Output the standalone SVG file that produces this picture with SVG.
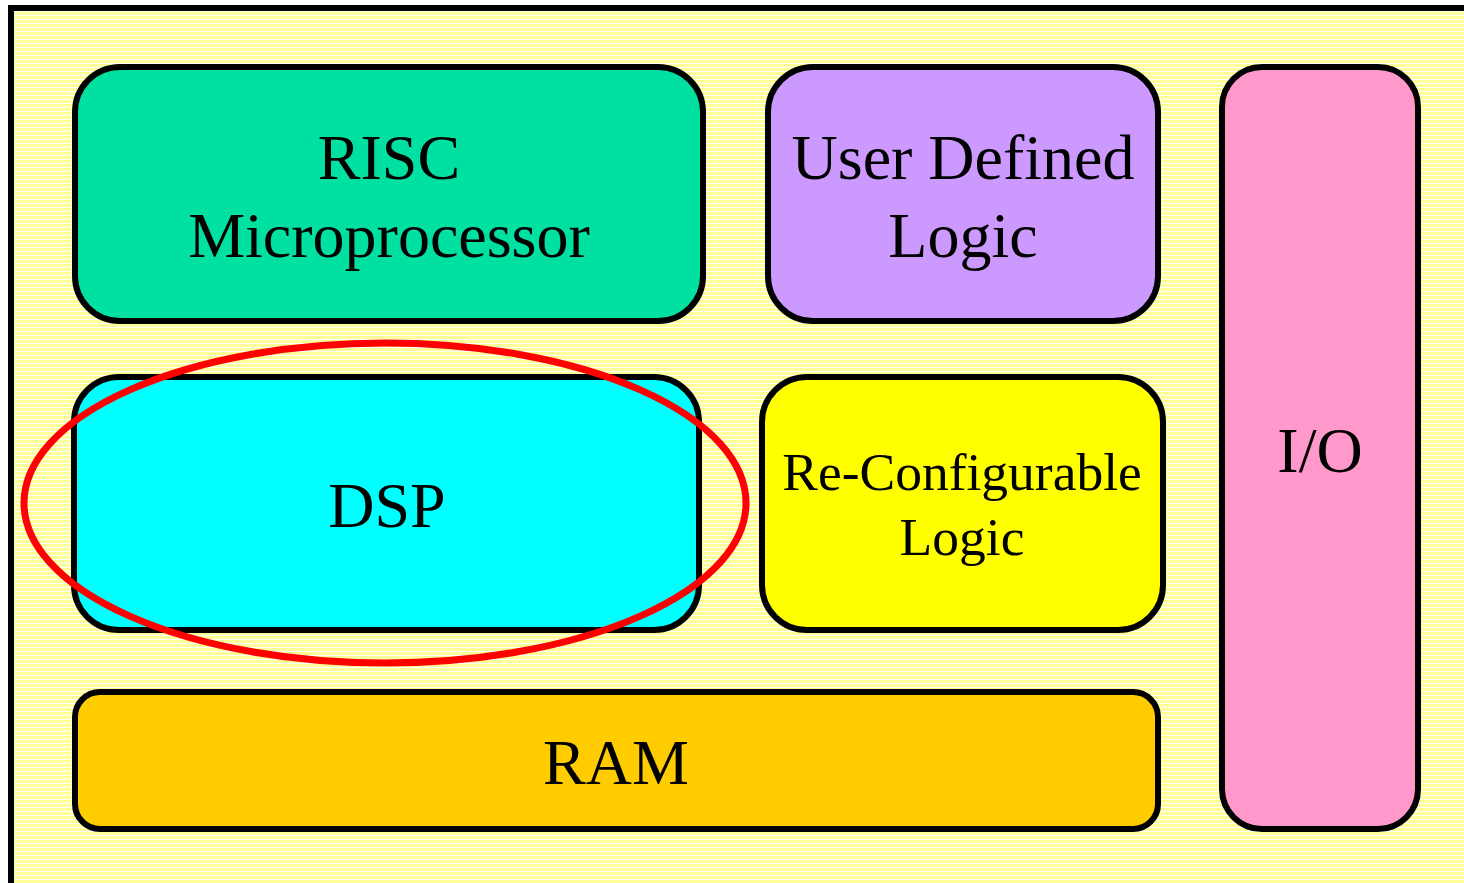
<svg xmlns="http://www.w3.org/2000/svg" width="1464" height="883" viewBox="0 0 1464 883">
<defs>
<pattern id="stripes" x="0" y="0" width="8" height="4" patternUnits="userSpaceOnUse">
<rect width="8" height="4" fill="#FFFF99"/>
<rect y="3" width="8" height="1" fill="#FFFFFF"/>
</pattern>
<style>
.box{stroke:#000;stroke-width:6}
.t{font-family:"Liberation Serif","Times New Roman",serif;font-size:64px;fill:#000;text-anchor:middle}
.s{font-size:53.5px}
</style>
</defs>
<rect width="1464" height="883" fill="#FFFFFF"/>
<rect x="11" y="8" width="1470" height="890" fill="url(#stripes)" stroke="#000" stroke-width="6"/>
<g id="risc">
<rect class="box" x="75" y="67" width="628" height="254" rx="45" fill="#00E0A0"/>
<text class="t" x="389" y="179">RISC</text>
<text class="t" x="389" y="257">Microprocessor</text>
</g>
<g id="udl">
<rect class="box" x="768" y="67" width="390" height="254" rx="45" fill="#CC99FF"/>
<text class="t" x="963" y="179">User Defined</text>
<text class="t" x="963" y="257">Logic</text>
</g>
<g id="io">
<rect class="box" x="1222" y="67" width="196" height="762" rx="40" fill="#FF99CC"/>
<text class="t" x="1320" y="472">I/O</text>
</g>
<g id="dsp">
<rect class="box" x="74" y="377" width="625" height="253" rx="45" fill="#00FFFF"/>
<text class="t" x="387" y="527">DSP</text>
</g>
<g id="rcl">
<rect class="box" x="762" y="377" width="401" height="253" rx="45" fill="#FFFF00"/>
<text class="t s" x="962" y="490">Re-Configurable</text>
<text class="t s" x="962" y="555">Logic</text>
</g>
<g id="ram">
<rect class="box" x="75" y="692" width="1083" height="137" rx="25" fill="#FFCC00"/>
<text class="t" x="616" y="784">RAM</text>
</g>
<g id="connectors">
<ellipse cx="385" cy="503" rx="361" ry="160" fill="none" stroke="#FF0000" stroke-width="7"/>
</g>
</svg>
